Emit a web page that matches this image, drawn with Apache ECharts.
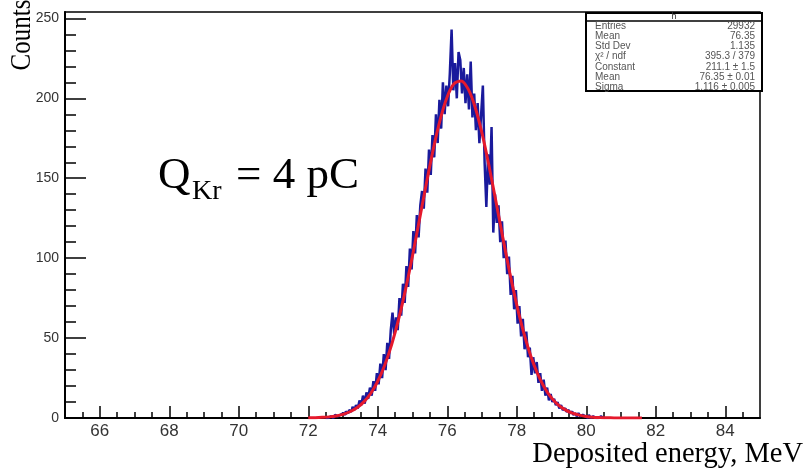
<!DOCTYPE html>
<html>
<head>
<meta charset="utf-8">
<script src="https://cdn.jsdelivr.net/npm/echarts@6/dist/echarts.min.js"></script>
<style>
  html, body { margin: 0; padding: 0; background: #fff; }
  #chart { width: 808px; height: 476px; }
</style>
</head>
<body>
<div id="chart"></div>
<script>
// histogram: bin centres start at binLo, step binWidth (MeV)
const binLo = 72.5;
const binWidth = 0.05;
const histCounts = [
  0, 0, 0, 1, 0, 1, 2, 1, 2, 1,               // 72.50 - 72.95
  3, 2, 4, 3, 5, 4, 7, 5, 8, 6,               // 73.00
  11, 8, 14, 9, 16, 12, 19, 14, 23, 17,       // 73.50
  28, 21, 34, 25, 40, 30, 47, 37, 55, 66,     // 74.00
  52, 63, 55, 75, 64, 84, 72, 95, 82, 106,    // 74.50
  93, 117, 103, 127, 113, 133, 142, 131, 156, 141,   // 75.00
  168, 152, 177, 163, 190, 172, 199, 181, 210, 190,  // 75.50
  208, 195, 216, 243, 205, 222, 200, 229, 224, 203,  // 76.00
  219, 197, 215, 193, 223, 188, 203, 180, 197, 172,  // 76.50
  190, 208, 160, 132, 165, 146, 182, 116, 140, 122,  // 77.00
  133, 110, 123, 100, 111, 90, 101, 77, 89, 68,      // 77.50
  80, 59, 70, 51, 62, 43, 54, 38, 44, 27,     // 78.00
  38, 28, 35, 22, 28, 17, 24, 14, 19, 11,     // 78.50
  15, 10, 12, 8, 10, 6, 8, 5, 6, 4,           // 79.00
  5, 3, 4, 2, 3, 1, 3, 1, 2, 1,               // 79.50
  1, 0, 2, 0, 1, 0, 1, 0, 1, 0,               // 80.00
  0                                           // 80.50
];

// gaussian fit curve, from fitLo every fitStep MeV
const fitLo = 72.0;
const fitStep = 0.2;
const fitValues = [
  0.1, 0.2, 0.4, 0.7, 1.3, 2.3, 3.9, 6.4, 10.1, 15.5,
  23.0, 33.0, 45.9, 61.8, 80.5, 101.5, 124.1, 146.9, 168.4, 187.0,
  201.0, 209.2, 210.9, 205.9, 194.6, 178.2, 157.9, 135.6, 112.7, 90.8,
  70.8, 53.4, 39.0, 27.7, 19.0, 12.6, 8.1, 5.1, 3.0, 1.8,
  1.0, 0.5, 0.3, 0.15, 0.07, 0.03, 0.01, 0, 0
];

const xMajor = [66, 68, 70, 72, 74, 76, 78, 80, 82, 84];
const yMajor = [0, 50, 100, 150, 200, 250];

const statNames = ['Entries', 'Mean', 'Std Dev', 'χ² / ndf', 'Constant', 'Mean', 'Sigma'];
const statValues = ['29932', '76.35', '1.135', '395.3 / 379', '211.1 ± 1.5', '76.35 ± 0.01', '1.116 ± 0.005'];

// minor ticks every 0.5 on x, every 10 on y
const xMinor = [];
for (let v = 65.5; v < 85; v += 0.5) {
  if (v % 2 !== 0) xMinor.push(v);
}
const yMinor = [];
for (let v = 10; v < 254; v += 10) {
  if (v % 50 !== 0) yMinor.push(v);
}

const histData = histCounts.map((c, i) => [+(binLo + i * binWidth).toFixed(2), c]);
const fitData = fitValues.map((c, i) => [+(fitLo + i * fitStep).toFixed(2), c]);

const chart = echarts.init(document.getElementById('chart'), null, { renderer: 'canvas' });

const serif = '"Liberation Serif", "Times New Roman", serif';
const sans = '"Liberation Sans", Arial, sans-serif';

const statTexts = [];
statNames.forEach((n, i) => {
  const y = 26 + i * 10.2;
  statTexts.push({
    type: 'text', x: 595, y: y, z: 102,
    style: { text: n, font: '10px ' + sans, fill: '#555', align: 'left', verticalAlign: 'middle' }
  });
  statTexts.push({
    type: 'text', x: 755, y: y, z: 102,
    style: { text: statValues[i], font: '10px ' + sans, fill: '#555', align: 'right', verticalAlign: 'middle' }
  });
});

const option = {
  animation: false,
  backgroundColor: '#fff',
  grid: {
    left: 65, right: 48, top: 12, bottom: 58,
    show: true, borderColor: '#000', borderWidth: 1.5,
    containLabel: false
  },
  xAxis: [
    {
      type: 'value', min: 65, max: 85, position: 'bottom',
      axisLine: { lineStyle: { color: '#000', width: 2 } },
      axisTick: { inside: true, length: 12, customValues: xMajor, lineStyle: { color: '#000', width: 1.5 } },
      axisLabel: { customValues: xMajor, fontSize: 17, color: '#333', margin: 5, fontFamily: sans },
      splitLine: { show: false }
    },
    {
      type: 'value', min: 65, max: 85, position: 'bottom',
      axisLine: { show: false },
      axisTick: { inside: true, length: 6, customValues: xMinor, lineStyle: { color: '#000', width: 1.5 } },
      axisLabel: { show: false },
      splitLine: { show: false }
    }
  ],
  yAxis: [
    {
      type: 'value', min: 0, max: 254, position: 'left',
      axisLine: { show: true, lineStyle: { color: '#000', width: 2 } },
      axisTick: { show: true, inside: true, length: 21, customValues: yMajor, lineStyle: { color: '#000', width: 1.5 } },
      axisLabel: { customValues: yMajor, fontSize: 14, color: '#333', margin: 6, fontFamily: sans },
      splitLine: { show: false }
    },
    {
      type: 'value', min: 0, max: 254, position: 'left',
      axisLine: { show: false },
      axisTick: { show: true, inside: true, length: 11, customValues: yMinor, lineStyle: { color: '#000', width: 1.5 } },
      axisLabel: { show: false },
      splitLine: { show: false }
    }
  ],
  series: [
    {
      type: 'line', xAxisIndex: 0, yAxisIndex: 0,
      data: histData, step: 'middle', symbol: 'none',
      lineStyle: { color: '#1a1a9c', width: 2.5 },
      z: 3
    },
    {
      type: 'line', xAxisIndex: 0, yAxisIndex: 0,
      data: fitData, smooth: 0.3, symbol: 'none',
      lineStyle: { color: '#e5192c', width: 3 },
      z: 4
    }
  ],
  graphic: [
    {
      type: 'text', x: 22, y: 35, rotation: Math.PI / 2, scaleY: 1.15,
      style: { text: 'Counts', font: '25px ' + serif, fill: '#000', align: 'center', verticalAlign: 'middle' }
    },
    {
      type: 'text', x: 158, y: 176.6,
      style: { text: 'Q', font: '45px ' + serif, fill: '#000', align: 'left', verticalAlign: 'middle' }
    },
    {
      type: 'text', x: 192, y: 191.5,
      style: { text: 'Kr', font: '28px ' + serif, fill: '#000', align: 'left', verticalAlign: 'middle' }
    },
    {
      type: 'text', x: 236, y: 176.6,
      style: { text: '= 4 pC', font: '45px ' + serif, fill: '#000', align: 'left', verticalAlign: 'middle' }
    },
    {
      type: 'text', x: 803, y: 454.5,
      style: { text: 'Deposited energy, MeV', font: '28.5px ' + serif, fill: '#000', align: 'right', verticalAlign: 'middle' }
    },
    // stats box
    {
      type: 'rect', z: 100,
      shape: { x: 586, y: 13, width: 176, height: 78 },
      style: { fill: '#fff', stroke: '#000', lineWidth: 2 }
    },
    {
      type: 'line', z: 101,
      shape: { x1: 586, y1: 21, x2: 762, y2: 21 },
      style: { stroke: '#000', lineWidth: 1.5 }
    },
    {
      type: 'text', x: 674, y: 17, z: 102,
      style: { text: 'h', font: '9px ' + sans, fill: '#333', align: 'center', verticalAlign: 'middle' }
    }
  ].concat(statTexts)
};

chart.setOption(option);
</script>
</body>
</html>
